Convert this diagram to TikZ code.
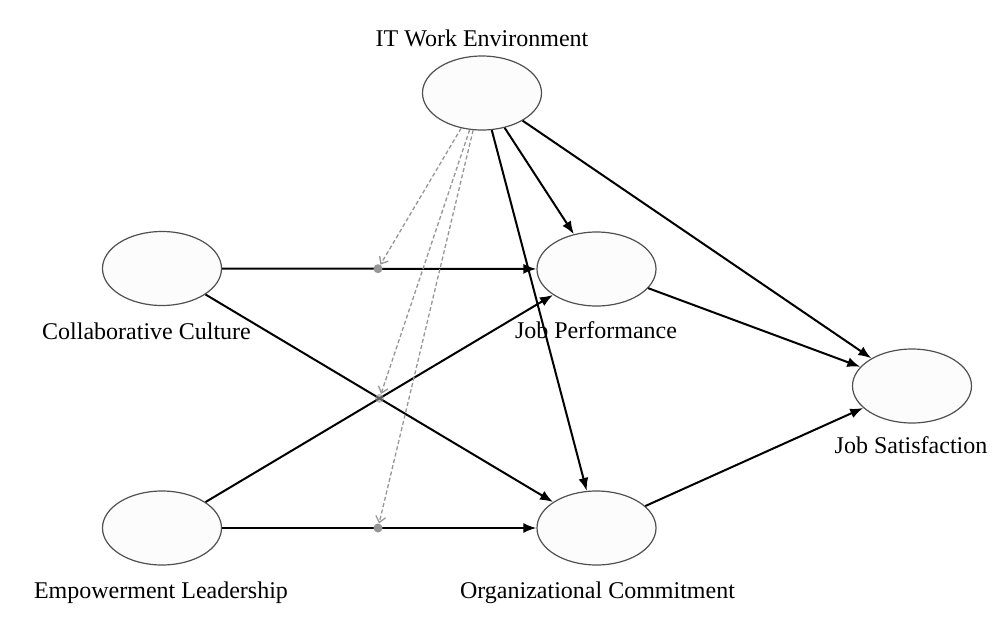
\documentclass[tikz,border=0pt]{standalone}
\usepackage{fontspec}
\setmainfont{Liberation Serif}
\usetikzlibrary{shapes.geometric,arrows.meta}
\definecolor{ellfill}{RGB}{252,252,252}
\definecolor{elldraw}{RGB}{80,80,80}
\definecolor{modgray}{RGB}{150,150,150}
\begin{document}
\begin{tikzpicture}[x=1pt,y=-1pt,
 latent/.style={ellipse,draw=elldraw,fill=ellfill,line width=1.2pt,minimum width=119pt,minimum height=74pt,inner sep=0pt},
 lbl/.style={font=\fontsize{24}{28}\selectfont,anchor=base,inner sep=0pt},
 reg/.style={-{Latex[length=13pt,width=10pt]},line width=2pt,black},
 moder/.style={-{Straight Barb[length=6pt,width=10pt]},modgray,line width=1.3pt,dash pattern=on 4pt off 2.5pt},
 mdot/.style={circle,fill=modgray,inner sep=0pt,minimum size=9pt}
]
\useasboundingbox (0,0) rectangle (1007,635);
% latent variables
\node[latent] (IT) at (482,93) {};
\node[latent] (CC) at (162,268.5) {};
\node[latent] (JP) at (596.5,269) {};
\node[latent] (EL) at (162,528) {};
\node[latent] (OC) at (596.5,528) {};
\node[latent] (JS) at (912,386) {};
% labels
\node[lbl] (tIT) at (482,46) {IT Work Environment};
\node[lbl] (tCC) at (146.5,339) {Collaborative Culture};
\node[lbl] (tJP) at (596,338) {Job Performance};
\node[lbl] (tJS) at (911,453) {Job Satisfaction};
\node[lbl] (tEL) at (161,598) {Empowerment Leadership};
\node[lbl] (tOC) at (597.5,598) {Organizational Commitment};
% structural paths
\draw[reg] (CC) -- (JP);
\draw[reg] (CC) -- (OC);
\draw[reg] (EL) -- (JP);
\draw[reg] (EL) -- (OC);
\draw[reg] (IT) -- (JP);
\draw[reg] (IT) -- (OC);
\draw[reg] (IT) -- (JS);
\draw[reg] (JP) -- (JS);
\draw[reg] (OC) -- (JS);
% moderation points
\node[mdot] (d1) at (378,268.7) {};
\node[mdot,fill opacity=0.6] (d2) at (379.5,398.4) {};
\node[mdot] (d3) at (378,528) {};
\draw[moder] (IT) -- (d1);
\draw[moder] (IT) -- (d2);
\draw[moder] (IT) -- (d3);
\end{tikzpicture}
\end{document}
